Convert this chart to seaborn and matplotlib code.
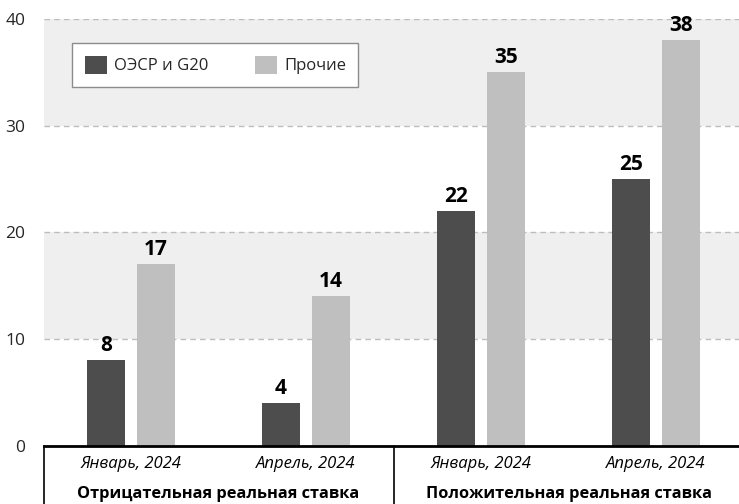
import matplotlib
matplotlib.use("Agg")
import matplotlib.pyplot as plt
import matplotlib.transforms as mtransforms
from matplotlib.patches import Patch
import seaborn as sns
import pandas as pd

# Number of countries by sign of the real policy rate
periods = ["Январь, 2024", "Апрель, 2024", "Январь, 2024", "Апрель, 2024"]
groups = ["Отрицательная реальная ставка", "Положительная реальная ставка"]
series_names = ["ОЭСР и G20", "Прочие"]
oecd_g20 = [8, 4, 22, 25]
others = [17, 14, 35, 38]
y_ticks = [0, 10, 20, 30, 40]

colors = {"ОЭСР и G20": "#4d4d4d", "Прочие": "#bfbfbf"}

slots = list(range(len(periods)))
df = pd.DataFrame({
    "slot": slots * 2,
    "value": oecd_g20 + others,
    "series": [series_names[0]] * len(slots) + [series_names[1]] * len(slots),
})

sns.set_theme(style="white")
plt.rcParams["font.family"] = ["Open Sans", "DejaVu Sans"]

fig = plt.figure(figsize=(7.39, 5.04), dpi=100)
W, H = 739.0, 504.0
ax = fig.add_axes([43.5 / W, (H - 445.5) / H, 700 / W, 426.5 / H])

# alternating horizontal bands and dashed grid
for lo in (10, 30):
    ax.axhspan(lo, lo + 10, color="#efefef", zorder=0, lw=0)
for t in y_ticks[1:]:
    ax.axhline(t, color="#bdbdbd", lw=1, ls=(0, (4, 3)), zorder=1)

sns.barplot(data=df, x="slot", y="value", hue="series", order=slots,
            hue_order=series_names, palette=colors, width=0.57, gap=0.24,
            ax=ax, legend=False, zorder=2, saturation=1, linewidth=0)

for cont in ax.containers:
    ax.bar_label(cont, padding=3, fontsize=15, fontweight="bold", color="black")

ax.set_xlim(-0.5, 3.5)
ax.set_ylim(0, 40)
ax.set_yticks(y_ticks)
ax.set_yticklabels([str(t) for t in y_ticks], fontsize=12.5)
ax.tick_params(axis="y", length=0, pad=13)
ax.set_xticks([])
ax.set_xlabel("")
ax.set_ylabel("")
for s in ("top", "right", "left"):
    ax.spines[s].set_visible(False)
ax.spines["bottom"].set_color("black")
ax.spines["bottom"].set_linewidth(2)
ax.spines["bottom"].set_zorder(5)

# two-level category labels beneath the axis
trans = mtransforms.blended_transform_factory(ax.transData, ax.transAxes)
for i, p in enumerate(periods):
    ax.text(i, -18 / 426.5, p, transform=trans, ha="center", va="center",
            fontsize=12, style="italic", color="black")
for g, name in enumerate(groups):
    ax.text(2 * g + 0.5, -48 / 426.5, name, transform=trans, ha="center",
            va="center", fontsize=11.8, fontweight="bold", color="black")
for xv in (-0.5, 1.5):
    ax.plot([xv, xv], [0, -0.2], transform=trans, color="black", lw=1.2,
            clip_on=False)

handles = [Patch(facecolor=colors[n], edgecolor="none", label=n) for n in series_names]
leg = ax.legend(handles=handles, ncol=2, loc="upper left",
                bbox_to_anchor=(72 / W, 1 - 43 / H), bbox_transform=fig.transFigure,
                fontsize=12, frameon=True, fancybox=False, edgecolor="#8c8c8c",
                framealpha=1, handlelength=1.35, handleheight=1.3,
                handletextpad=0.4, columnspacing=2.8, borderpad=0.75,
                borderaxespad=0)
leg.get_frame().set_linewidth(1)

fig.savefig("out.png", dpi=100)
